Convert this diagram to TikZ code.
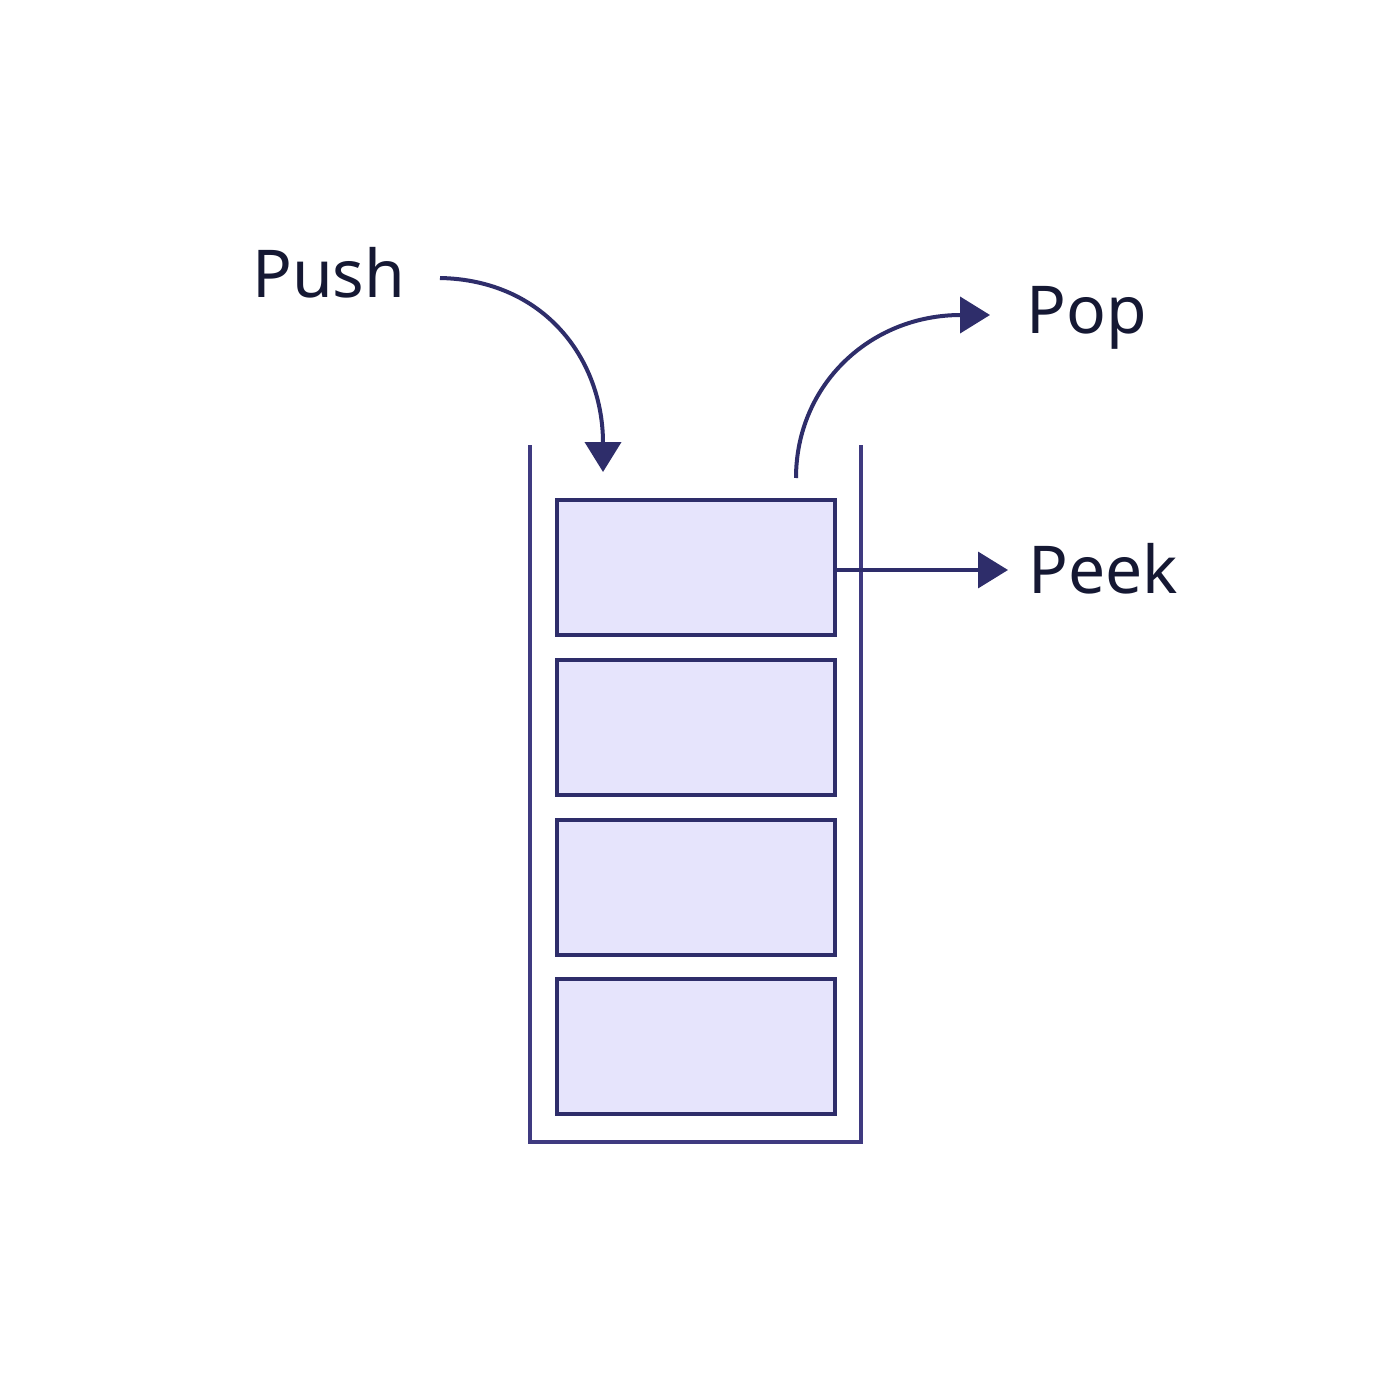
\documentclass[tikz,border=0pt]{standalone}
\usepackage{fontspec}
\setmainfont{Noto Sans}
\usetikzlibrary{arrows.meta}
\definecolor{edgec}{HTML}{2E2D6A}
\definecolor{wallc}{HTML}{3F3A80}
\definecolor{fillc}{HTML}{E6E4FC}
\definecolor{textc}{HTML}{151833}
\tikzset{
  itembox/.style={draw=edgec, line width=4.5pt, fill=fillc, minimum width=278pt, minimum height=135pt, inner sep=0pt, outer sep=0pt, anchor=north west},
  lbl/.style={font=\fontsize{66}{78}\selectfont, text=textc, anchor=base west, inner sep=0pt},
  conn/.style={draw=edgec, line width=4pt, -{Triangle[length=30pt,width=36pt]}},
  wall/.style={draw=wallc, line width=3.5pt}
}
\begin{document}
\begin{tikzpicture}[x=1pt,y=-1pt]
\useasboundingbox (0,0) rectangle (1396,1396);
\fill[white] (0,0) rectangle (1396,1396);
% container
\coordinate (wl) at (530,445);
\coordinate (wr) at (861,445);
\draw[wall] (wl) -- (530,1142) -- (861,1142) -- (wr);
% items
\node[itembox] (b1) at (557,500) {};
\node[itembox] (b2) at (557,660) {};
\node[itembox] (b3) at (557,820) {};
\node[itembox] (b4) at (557,979) {};
% labels
\node[lbl] (push) at (252,298) {Push};
\node[lbl] (pop) at (1026,333) {Pop};
\node[lbl] (peek) at (1028,593) {Peek};
% connectors
\coordinate (pushs) at (440,278);
\coordinate (pusht) at (603,472);
\draw[conn] (pushs) .. controls (545,280) and (603,360) .. (pusht);
\coordinate (pops) at (796,478);
\coordinate (popt) at (990,315);
\draw[conn] (pops) .. controls (796,385) and (870,315) .. (popt);
\coordinate (peekt) at (1008,570);
\draw[conn, line width=3.5pt] (b1.east |- 0,570) -- (peekt);
\end{tikzpicture}
\end{document}
